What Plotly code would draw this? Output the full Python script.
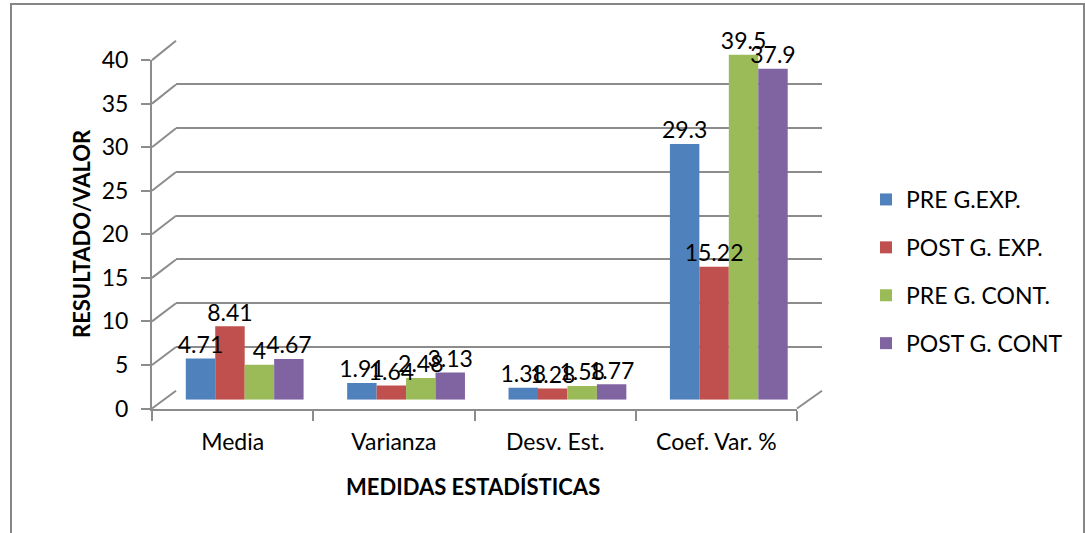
import plotly.graph_objects as go

CATEGORIES = ["Media", "Varianza", "Desv. Est.", "Coef. Var. %"]
PRE_EXP = [4.71, 1.91, 1.38, 29.3]
POST_EXP = [8.41, 1.64, 1.28, 15.22]
PRE_CONT = [4.0, 2.48, 1.58, 39.5]
POST_CONT = [4.67, 3.13, 1.77, 37.9]
SERIES_NAMES = ["PRE G.EXP.", "POST G. EXP.", "PRE G. CONT.", "POST G. CONT"]
COLORS = ["#4f81bd", "#c0504d", "#9bbb59", "#8064a2"]
Y_TICKS = [0, 5, 10, 15, 20, 25, 30, 35, 40]
Y_RANGE = [0, 40]

W, H = 1085, 533
FONT = "Lato"
GRAY = "#8c8c8c"
GAP = 0.27


def fx(x):
    return x / W


def fy(y):
    return 1 - y / H


# page-pixel geometry of the pseudo-3D frame (back wall, bar plane, front axes)
BACK = dict(x0=176, x1=822, y0=390.7, k=8.75)
MID = dict(x0=164, x1=809.5, y0=399.7, k=8.73)
FRONT = dict(x0=152, x1=797, y0=408.5, k=8.71)


def ypix(g, v):
    return g["y0"] - g["k"] * v


def ydom(g):
    return [fy(ypix(g, Y_RANGE[0])), fy(ypix(g, Y_RANGE[1]))]


def xdom(g):
    return [fx(g["x0"]), fx(g["x1"])]


fig = go.Figure()

# back wall (gridlines only)
fig.add_trace(go.Scatter(x=CATEGORIES, y=PRE_EXP, mode="markers", marker=dict(opacity=0),
                         showlegend=False, hoverinfo="skip", xaxis="x", yaxis="y"))
# front axes (labels, axis lines)
fig.add_trace(go.Scatter(x=CATEGORIES, y=PRE_EXP, mode="markers", marker=dict(opacity=0),
                         showlegend=False, hoverinfo="skip", xaxis="x2", yaxis="y2"))

ALL = [PRE_EXP, POST_EXP, PRE_CONT, POST_CONT]
for i, (name, vals) in enumerate(zip(SERIES_NAMES, ALL)):
    fig.add_trace(go.Bar(
        x=CATEGORIES, y=vals, name=name, marker=dict(color=COLORS[i], line=dict(width=0)),
        offsetgroup=str(i), xaxis="x3", yaxis="y3", legendgroup=f"g{i}",
    ))
# data labels drawn above all bars
for i, (name, vals) in enumerate(zip(SERIES_NAMES, ALL)):
    fig.add_trace(go.Scatter(
        x=CATEGORIES, y=vals, mode="text", text=[f"{v:g}" for v in vals],
        textposition="top center", textfont=dict(family=FONT, size=23, color="black"),
        offsetgroup=str(i), orientation="v", cliponaxis=False, showlegend=False,
        hoverinfo="skip", xaxis="x3", yaxis="y3",
    ))

common_hidden = dict(showticklabels=False, showline=False, zeroline=False, ticks="")

fig.update_layout(
    template="plotly_white",
    width=W, height=H,
    margin=dict(l=0, r=0, t=0, b=0, autoexpand=False),
    paper_bgcolor="white", plot_bgcolor="rgba(0,0,0,0)",
    font=dict(family=FONT, size=23, color="black"),
    barmode="group", bargap=GAP, bargroupgap=0,
    scattermode="group", scattergap=GAP,
    showlegend=True,
    legend=dict(x=fx(866), y=fy(178), xanchor="left", yanchor="top",
                font=dict(family=FONT, size=23, color="black"),
                tracegroupgap=15, bgcolor="rgba(0,0,0,0)"),
    xaxis=dict(domain=xdom(BACK), anchor="y", type="category", range=[-0.5, 3.5],
               showgrid=False, automargin=False, **common_hidden),
    yaxis=dict(domain=ydom(BACK), anchor="x", range=Y_RANGE, tickvals=Y_TICKS,
               showgrid=True, gridcolor=GRAY, gridwidth=2, automargin=False, **common_hidden),
    xaxis2=dict(domain=xdom(FRONT), anchor="y2", type="category", range=[-0.5, 3.5],
                showgrid=False, zeroline=False, showline=True, linecolor=GRAY, linewidth=2,
                ticks="outside", tickson="boundaries", ticklen=10, tickcolor=GRAY, tickwidth=2,
                ticklabelstandoff=12, automargin=False,
                tickfont=dict(family=FONT, size=23, color="black")),
    yaxis2=dict(domain=ydom(FRONT), anchor="x2", range=Y_RANGE, tickvals=Y_TICKS,
                showgrid=False, zeroline=False, showline=True, linecolor=GRAY, linewidth=2,
                ticks="outside", ticklen=9, tickcolor=GRAY, tickwidth=2,
                ticklabelstandoff=8, automargin=False,
                tickfont=dict(family=FONT, size=23, color="black")),
    xaxis3=dict(domain=xdom(MID), anchor="y3", type="category", range=[-0.5, 3.5],
                showgrid=False, automargin=False, **common_hidden),
    yaxis3=dict(domain=ydom(MID), anchor="x3", range=Y_RANGE, showgrid=False,
                automargin=False, **common_hidden),
)

shapes = []
# outer chart border (bottom edge falls outside the picture)
shapes.append(dict(type="rect", xref="paper", yref="paper", x0=fx(11), x1=fx(1084),
                   y0=fy(570), y1=fy(4), line=dict(color="#868686", width=2), layer="below"))
# diagonal connectors from front tick to back gridline
for v in Y_TICKS:
    shapes.append(dict(type="line", xref="paper", yref="paper",
                       x0=fx(FRONT["x0"]), y0=fy(ypix(FRONT, v)),
                       x1=fx(BACK["x0"]), y1=fy(ypix(BACK, v)),
                       line=dict(color=GRAY, width=2), layer="below"))
# right floor edge
shapes.append(dict(type="line", xref="paper", yref="paper",
                   x0=fx(FRONT["x1"]), y0=fy(ypix(FRONT, 0)),
                   x1=fx(BACK["x1"]), y1=fy(ypix(BACK, 0)),
                   line=dict(color=GRAY, width=2), layer="below"))
fig.update_layout(shapes=shapes)

fig.update_layout(annotations=[
    dict(text="<b>RESULTADO/VALOR</b>", xref="paper", yref="paper", x=fx(82), y=fy(234),
         textangle=-90, showarrow=False, font=dict(family=FONT, size=22, color="black"),
         xanchor="center", yanchor="middle"),
    dict(text="<b>MEDIDAS ESTADÍSTICAS</b>", xref="paper", yref="paper", x=fx(473), y=fy(486),
         showarrow=False, font=dict(family=FONT, size=22, color="black"),
         xanchor="center", yanchor="middle"),
])

fig.write_html("out.html", config={"displayModeBar": False},
               post_script="document.body.style.margin = '0px';")
